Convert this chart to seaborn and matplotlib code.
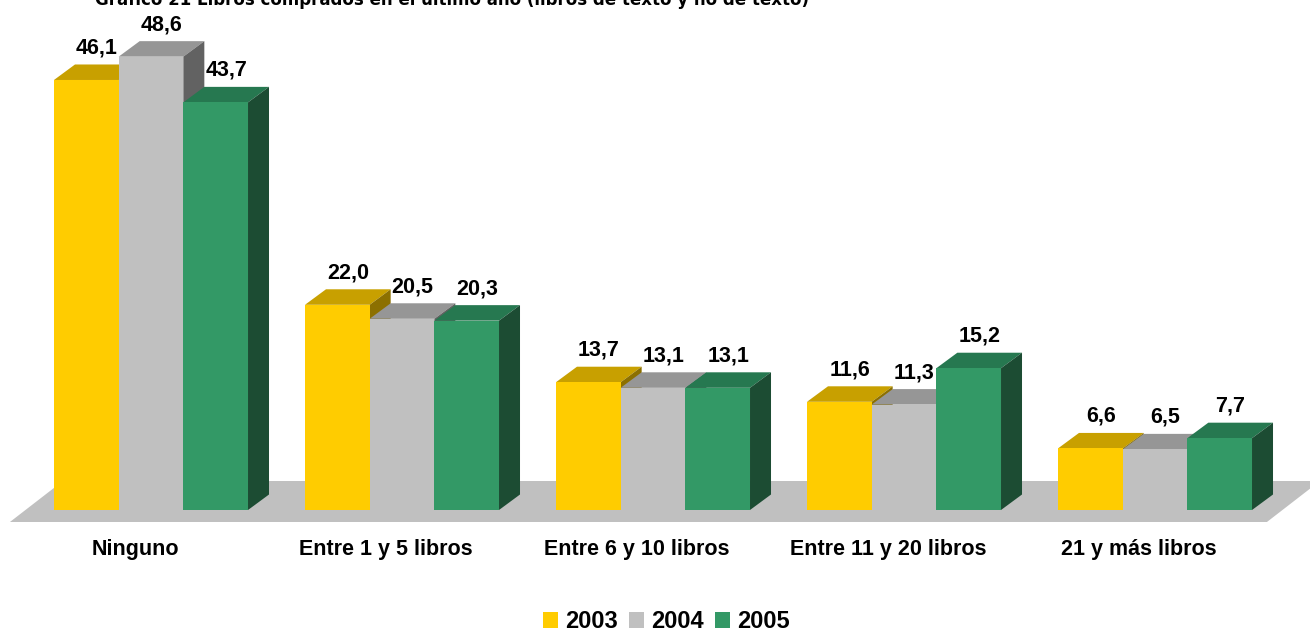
import numpy as np
import pandas as pd
import matplotlib
matplotlib.use("Agg")
import matplotlib.pyplot as plt
import seaborn as sns
from matplotlib.patches import Polygon, Patch
from matplotlib.transforms import ScaledTranslation

categories = ["Ninguno", "Entre 1 y 5 libros", "Entre 6 y 10 libros",
              "Entre 11 y 20 libros", "21 y más libros"]
years = ["2003", "2004", "2005"]
v2003 = [46.1, 22.0, 13.7, 11.6, 6.6]
v2004 = [48.6, 20.5, 13.1, 11.3, 6.5]
v2005 = [43.7, 20.3, 13.1, 15.2, 7.7]
title = "Gráfico 21 Libros comprados en el último año (libros de texto y no de texto)"

front = ["#FFCC00", "#C0C0C0", "#339966"]
top_c = ["#C8A000", "#969696", "#267850"]
side_c = ["#8C7000", "#626262", "#1C4C33"]

df = pd.DataFrame({
    "cat": categories * 3,
    "year": [y for y in years for _ in categories],
    "val": v2003 + v2004 + v2005,
})

sns.set_style("white")
plt.rcParams["font.family"] = ["Liberation Sans", "DejaVu Sans"]
plt.rcParams["text.color"] = "black"
plt.rcParams["xtick.color"] = "black"

W, H = 1310, 632
fig = plt.figure(figsize=(W / 100, H / 100), dpi=100)
base_px = 122
ax = fig.add_axes([0, base_px / H, 1, 1 - base_px / H])

sns.barplot(data=df, x="cat", y="val", hue="year", palette=front,
            width=0.773, gap=0, saturation=1, ax=ax, legend=False)

# scale: 251 px per category, 9.328 px per unit
ax.set_xlim(-151 / 251, (W - 151) / 251)
ax.set_ylim(0, (H - base_px) / 9.328)
px_x = 1 / 251
px_y = 1 / 9.328
dx, dy = 21 * px_x, 15.5 * px_y

# floor
fx0 = -0.562
fx1 = 4.446
floor = Polygon([(fx0, -12 * px_y), (fx1, -12 * px_y),
                 (fx1 + 53 * px_x, 29 * px_y), (fx0 + 53 * px_x, 29 * px_y)],
                closed=True, facecolor="#C0C0C0", edgecolor="none",
                zorder=0.5, clip_on=False)
ax.add_patch(floor)

for k, cont in enumerate(ax.containers):
    for bar in cont:
        x0 = bar.get_x()
        w = bar.get_width()
        h = bar.get_height()
        bar.set_zorder(3 + 2 * k)
        bar.set_edgecolor("none")
        top = Polygon([(x0, h), (x0 + w, h), (x0 + w + dx, h + dy), (x0 + dx, h + dy)],
                      closed=True, facecolor=top_c[k], edgecolor="none", zorder=2 + 2 * k)
        side = Polygon([(x0 + w, 0), (x0 + w + dx, dy), (x0 + w + dx, h + dy), (x0 + w, h)],
                       closed=True, facecolor=side_c[k], edgecolor="none", zorder=2 + 2 * k)
        ax.add_patch(top)
        ax.add_patch(side)
        ax.text(x0 + w / 2 + dx / 2, h + dy + 11 * px_y, f"{h:.1f}".replace(".", ","),
                ha="center", va="baseline", fontsize=15.5, fontweight="bold",
                color="black", zorder=20)

ax.set_xlabel("")
ax.set_ylabel("")
ax.set_yticks([])
ax.tick_params(axis="x", length=0, pad=21, labelsize=15.5)
for lab in ax.get_xticklabels():
    lab.set_fontweight("bold")
    lab.set_transform(lab.get_transform() + ScaledTranslation(-16 / 100, 0, fig.dpi_scale_trans))
for s in ax.spines.values():
    s.set_visible(False)
ax.patch.set_alpha(0)

handles = [Patch(facecolor=c, edgecolor="none") for c in front]
fig.legend(handles, years, loc="center", bbox_to_anchor=(666 / W, 10 / H),
           ncol=3, frameon=False, handlelength=0.64, handleheight=0.68,
           handletextpad=0.3, columnspacing=0.47, borderaxespad=0, borderpad=0,
           prop={"size": 17, "weight": "bold"})

fig.text(452 / W, 1 - 5 / H, title, ha="center", va="baseline",
         fontsize=12, fontweight="bold", family=["DejaVu Sans"])

fig.savefig("out.png", dpi=100)
